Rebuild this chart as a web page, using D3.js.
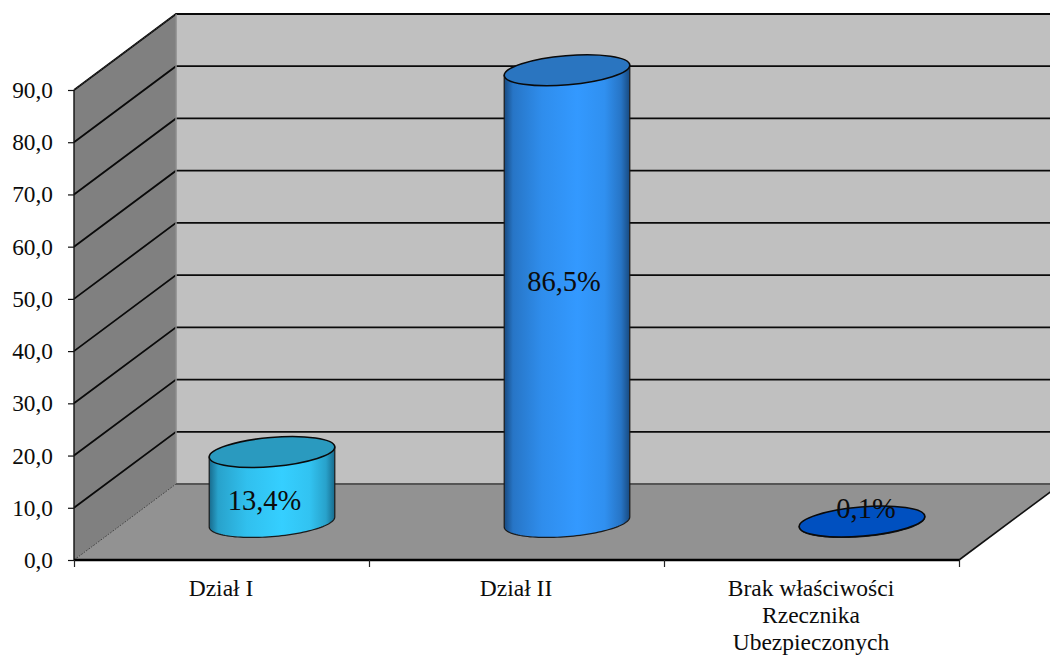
<!DOCTYPE html>
<html lang="pl">
<head>
<meta charset="utf-8">
<script src="https://cdn.jsdelivr.net/npm/d3@7/dist/d3.min.js"></script>
<style>
  html, body { margin: 0; padding: 0; background: #fff; }
  svg { display: block; }
  text { font-family: "Liberation Serif", serif; fill: #0c0c0c; }
</style>
</head>
<body>
<svg id="chart" width="1050" height="655"></svg>
<script>
// Complaint shares by section, drawn as a 3D cylinder column chart
const categories = ["Dział I", "Dział II", "Brak właściwości Rzecznika Ubezpieczonych"];
const categoryLines = [["Dział I"], ["Dział II"], ["Brak właściwości", "Rzecznika", "Ubezpieczonych"]];
const values = [13.4, 86.5, 0.1];
const valueLabels = ["13,4%", "86,5%", "0,1%"];
const yTicks = [0, 10, 20, 30, 40, 50, 60, 70, 80, 90];
const sideColors = ["#35cfff", "#3399ff", "#0a55c8"];
const edgeColors = ["#186a8c", "#184a80", "#0a3f90"];
const capColors = ["#2a9abf", "#2a75c0", "#0050c0"];

const plotLeft = 74, plotRight = 959, plotTop = 90, plotBottom = 560;
const depthX = 102, depthY = 76;

const x = d3.scaleBand().domain(categories).range([plotLeft, plotRight]);
const y = d3.scaleLinear().domain([0, 90]).range([plotBottom, plotTop]);

const svg = d3.select("#chart");
const defs = svg.append("defs");

const poly = pts => d3.line()(pts) + "Z";

// Back wall, side wall and floor of the plot box
svg.append("path").attr("fill", "#c0c0c0")
  .attr("d", poly([[plotLeft + depthX, plotTop - depthY], [plotRight + depthX, plotTop - depthY],
                   [plotRight + depthX, plotBottom - depthY], [plotLeft + depthX, plotBottom - depthY]]));
svg.append("path").attr("fill", "#808080")
  .attr("d", poly([[plotLeft, plotTop], [plotLeft + depthX, plotTop - depthY],
                   [plotLeft + depthX, plotBottom - depthY], [plotLeft, plotBottom]]));
svg.append("path").attr("fill", "#929292")
  .attr("d", poly([[plotLeft, plotBottom], [plotLeft + depthX, plotBottom - depthY],
                   [plotRight + depthX, plotBottom - depthY], [plotRight, plotBottom]]));

// Gridlines run along the side wall and across the back wall
const grid = svg.append("g").attr("fill", "none").attr("stroke", "#0a0a0a");
grid.selectAll("path.grid").data(yTicks.slice(1)).join("path")
  .attr("class", "grid")
  .attr("stroke-width", 1.8)
  .attr("d", d => d3.line()([[plotLeft, y(d)], [plotLeft + depthX, y(d) - depthY], [plotRight + depthX, y(d) - depthY]]));

// Box edges
svg.append("line").attr("x1", plotLeft + depthX).attr("x2", plotLeft + depthX)
  .attr("y1", plotTop - depthY).attr("y2", plotBottom - depthY)
  .attr("stroke", "#8c8c8c").attr("stroke-width", 1.5);
svg.append("line").attr("x1", plotLeft + depthX).attr("x2", plotRight + depthX)
  .attr("y1", plotBottom - depthY).attr("y2", plotBottom - depthY)
  .attr("stroke", "#555").attr("stroke-width", 2);
svg.append("path").attr("fill", "none").attr("stroke", "#333")
  .attr("stroke-width", 1).attr("stroke-dasharray", "2,1")
  .attr("d", d3.line()([[plotLeft, plotTop], [plotLeft + depthX, plotTop - depthY]]));
svg.append("path").attr("fill", "none").attr("stroke", "#444")
  .attr("stroke-width", 1).attr("stroke-dasharray", "2,1")
  .attr("d", d3.line()([[plotLeft, plotBottom], [plotLeft + depthX, plotBottom - depthY]]));
svg.append("line").attr("x1", plotRight).attr("y1", plotBottom)
  .attr("x2", plotRight + depthX).attr("y2", plotBottom - depthY)
  .attr("stroke", "#111").attr("stroke-width", 1.6);

// Cylinders stand in the middle of the floor depth; their ends are tilted ellipses
const rx = 63, ry = 14.6, tilt = -4.8;
const rad = tilt * Math.PI / 180;
const ellipsePoint = (a, cy) => [
  rx * Math.cos(a) * Math.cos(rad) - ry * Math.sin(a) * Math.sin(rad),
  cy + rx * Math.cos(a) * Math.sin(rad) + ry * Math.sin(a) * Math.cos(rad)
];
// Parameter where the ellipse reaches its rightmost point; the silhouette's lower
// half runs from there through the bottom to the opposite, leftmost point
const rightmost = Math.atan2(-ry * Math.sin(rad), rx * Math.cos(rad));
const lowerArc = d3.range(0, 61).map(k => rightmost + Math.PI * k / 60);

// Side shading: dark rims, brightest a little right of the middle
const shadeStops = [[0, 0], [0.07, 0.55], [0.3, 0.85], [0.58, 1], [0.8, 0.88], [0.93, 0.55], [1, 0]];
values.forEach((v, i) => {
  const g = defs.append("linearGradient").attr("id", "side" + i)
    .attr("x1", 0).attr("x2", 1).attr("y1", 0).attr("y2", 0);
  const mix = d3.interpolateRgb(edgeColors[i], sideColors[i]);
  shadeStops.forEach(([o, k]) => g.append("stop").attr("offset", o).attr("stop-color", mix(k)));
});

const bars = svg.append("g").selectAll("g").data(values).join("g")
  .attr("transform", (d, i) =>
    `translate(${x(categories[i]) + x.bandwidth() / 2 + depthX / 2 - 0.5},${-depthY / 2})`);

bars.append("path")
  .attr("fill", (d, i) => `url(#side${i})`)
  .attr("stroke", "#1a1a1a").attr("stroke-width", 1.2)
  .attr("d", d => poly([ellipsePoint(rightmost + Math.PI, y(d)), ellipsePoint(rightmost, y(d))]
    .concat(lowerArc.map(a => ellipsePoint(a, y(0))))));

bars.append("ellipse")
  .attr("rx", rx).attr("ry", ry)
  .attr("transform", d => `translate(0,${y(d)}) rotate(${tilt})`)
  .attr("fill", (d, i) => capColors[i])
  .attr("stroke", "#0a0a0a").attr("stroke-width", 1.6);

// Value labels sit slightly off the cylinder's mid height
const labelNudge = [[-8, 13], [-3.5, -15], [3.5, -13]];
svg.append("g").selectAll("text").data(values).join("text")
  .attr("text-anchor", "middle")
  .attr("font-size", 28.5)
  .attr("dominant-baseline", "central")
  .attr("x", (d, i) => x(categories[i]) + x.bandwidth() / 2 + depthX / 2 + labelNudge[i][0])
  .attr("y", (d, i) => (y(d) + y(0)) / 2 - depthY / 2 + labelNudge[i][1])
  .text((d, i) => valueLabels[i]);

// Axes
const yAxis = svg.append("g").attr("transform", `translate(${plotLeft},0)`)
  .call(d3.axisLeft(y).tickValues(yTicks).tickSize(6).tickPadding(15)
    .tickFormat(d => d3.format(".1f")(d).replace(".", ",")));
yAxis.attr("font-family", null);
yAxis.select(".domain").attr("stroke", "#111").attr("stroke-width", 1.4).attr("d", `M0,${plotTop}V${plotBottom}`);
yAxis.selectAll(".tick line").attr("stroke", "#111").attr("stroke-width", 1.2);
yAxis.selectAll("text").attr("font-size", 23.3).style("fill", "#0c0c0c");

const edgeScale = d3.scaleLinear().domain([0, categories.length]).range([plotLeft, plotRight]);
const xAxis = svg.append("g").attr("transform", `translate(0,${plotBottom})`)
  .call(d3.axisBottom(edgeScale).tickValues(d3.range(categories.length + 1)).tickSize(7).tickFormat(""));
xAxis.select(".domain").attr("stroke", "#000").attr("stroke-width", 2.4).attr("d", `M${plotLeft},0H${plotRight}`);
xAxis.selectAll(".tick line").attr("stroke", "#222").attr("stroke-width", 1.2);

// Category labels, wrapped by hand over up to three lines
const catLabels = svg.append("g").selectAll("text").data(categories).join("text")
  .attr("text-anchor", "middle").attr("font-size", 23.5)
  .attr("transform", d => `translate(${x(d) + x.bandwidth() / 2 - 0.5},596)`);
catLabels.each(function (d, i) {
  d3.select(this).selectAll("tspan").data(categoryLines[i]).join("tspan")
    .attr("x", 0).attr("y", (l, j) => j * 27.2).text(l => l);
});
</script>
</body>
</html>
